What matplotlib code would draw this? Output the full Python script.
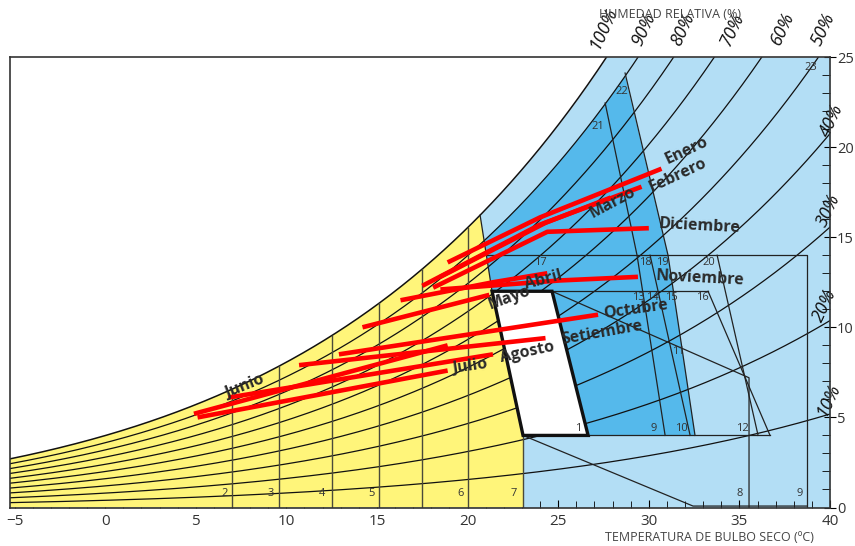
import numpy as np
import matplotlib.pyplot as plt
from matplotlib.patches import Polygon
from matplotlib.ticker import MultipleLocator

plt.rcParams['font.family'] = ['Open Sans', 'DejaVu Sans']

# ---------------- datos ----------------
P_ATM = 95.8          # kPa, presión del sitio
T_MIN, T_MAX = -5.25, 40
W_MAX = 25

rh_levels = [10, 20, 30, 40, 50, 60, 70, 80, 90, 100]
rh_labels = ['100%', '90%', '80%', '70%', '60%', '50%', '40%', '30%', '20%', '10%']
rh_label_t = [27.5, 29.7, 31.9, 34.6, 37.4, 39.6, 40.1, 39.9, 39.7, 39.9]
rh_label_w = [26.6, 26.5, 26.5, 26.5, 26.6, 26.5, 21.5, 16.5, 11.2, 6.0]

# meses: (T, W) de cada tramo
month_names = ['Enero', 'Febrero', 'Marzo', 'Abril', 'Mayo', 'Junio',
               'Julio', 'Agosto', 'Setiembre', 'Octubre', 'Noviembre', 'Diciembre']
month_t = [[18.9, 24.0, 30.7],
           [17.5, 24.0, 29.6],
           [18.5, 24.3, 27.9],
           [16.3, 21.4, 24.4],
           [14.2, 21.2],
           [4.9, 18.9],
           [5.1, 18.9],
           [6.8, 21.4],
           [10.7, 24.3],
           [12.9, 27.2],
           [18.5, 25.1, 29.4],
           [18.1, 24.4, 30.0]]
month_w = [[13.6, 16.1, 18.8],
           [12.3, 15.7, 17.8],
           [12.8, 15.8, 17.2],
           [11.5, 12.5, 13.0],
           [10.0, 11.8],
           [5.2, 9.0],
           [5.0, 7.6],
           [6.1, 8.5],
           [7.9, 9.4],
           [8.5, 10.7],
           [12.1, 12.6, 12.8],
           [12.2, 15.3, 15.5]]
month_lbl_t = [32.1, 31.6, 28.0, 24.2, 22.3, 7.7, 20.1, 23.3, 27.4, 29.3, 32.8, 32.8]
month_lbl_w = [19.8, 18.45, 16.9, 12.6, 11.6, 6.7, 7.8, 8.6, 9.7, 11.0, 12.7, 15.6]
month_lbl_rot = [25, 25, 28, 15, 20, 22, 8, 12, 10, 8, -3, -3]

# zona de confort (1)
comfort_t = [21.35, 24.66, 26.65, 23.06]
comfort_w = [12, 12, 4, 4]

zone_ids = ['1', '2', '3', '4', '5', '6', '7', '8', '9', '9', '10', '11', '12',
            '13', '14', '15', '16', '17', '18', '19', '20', '21', '22', '23']
zone_t = [26.1, 6.57, 9.16, 11.97, 14.68, 19.59, 22.57, 35.03, 38.34, 30.29, 31.78,
          31.61, 35.14, 29.41, 30.18, 31.23, 32.94, 24.0, 29.79, 30.73, 33.32,
          27.2, 28.52, 38.95]
zone_w = [4.41, 0.8, 0.8, 0.8, 0.8, 0.8, 0.8, 0.8, 0.8, 4.41, 4.41, 8.63, 4.41,
          11.63, 11.63, 11.63, 11.63, 13.57, 13.57, 13.57, 13.57, 21.12, 23.11, 24.39]

verticals_t = [7.0, 9.6, 12.5, 15.1, 17.5, 20.0]


def psat(t):
    return 0.61094 * np.exp(17.625 * t / (t + 243.04))


def w_sat(t):
    ps = psat(t)
    return 622 * ps / (P_ATM - ps)


# ---------------- figura ----------------
fig = plt.figure(figsize=(8.55, 5.46), dpi=100)
ax = fig.add_axes([0.0117, 0.0705, 0.9591, 0.8251])
ax.set_xlim(T_MIN, T_MAX)
ax.set_ylim(0, W_MAX)

c_yel = '#fff57a'
c_lb = '#b3def5'
c_db = '#55b9eb'

tt = np.linspace(T_MIN, T_MAX, 600)
ws = w_sat(tt)
ax.fill_between(tt, 0, np.minimum(ws, W_MAX), color=c_lb, lw=0, zorder=1)

# amarillo
t_top = 20.69
ty = np.linspace(T_MIN, t_top, 200)
yel = list(zip(ty, w_sat(ty))) + [(21.35, 12), (23.06, 4), (23.06, 0), (T_MIN, 0)]
ax.add_patch(Polygon(yel, closed=True, fc=c_yel, ec='none', zorder=2))

# azul oscuro: curva 90% hasta el borde
edge_a = (t_top, w_sat(t_top))
edge_b = (21.35, 12.0)
ts = np.linspace(edge_a[0], edge_b[0], 400)
we = edge_a[1] + (ts - edge_a[0]) / (edge_b[0] - edge_a[0]) * (edge_b[1] - edge_a[1])
i0 = np.argmin(np.abs(0.9 * w_sat(ts) - we))
t90 = np.linspace(ts[i0], 28.69, 200)
db = list(zip(t90, 0.9 * w_sat(t90))) + [(31.06, 14), (32.55, 4), (26.65, 4),
                                         (24.66, 12), (21.35, 12)]
ax.add_patch(Polygon(db, closed=True, fc=c_db, ec='none', zorder=2))

# confort
ax.add_patch(Polygon(list(zip(comfort_t, comfort_w)), closed=True, fc='white',
                     ec='#111111', lw=2.4, zorder=5))

# curvas de humedad relativa
for rh in rh_levels:
    ax.plot(tt, rh / 100 * ws, color='#111111', lw=0.9 if rh < 100 else 1.1, zorder=4)

# líneas de zonas
zone_lines = [
    [(t_top, w_sat(t_top)), (21.35, 12)],
    [(21.05, 14), (38.73, 14), (38.73, 0)],
    [(21.35, 12), (33.27, 12)],
    [(23.06, 4), (36.69, 4)],
    [(27.59, 22.45), (29.35, 14), (30.9, 4)],
    [(28.69, 24.11), (31.06, 14), (32.55, 4)],
    [(30.07, 14), (32.28, 4)],
    [(24.66, 12), (35.53, 7.2), (35.53, 0)],
    [(33.77, 14), (36.03, 4)],
    [(33.27, 12), (36.69, 4)],
    [(23.06, 4), (32.44, 0.08), (38.73, 0.08)],
]
for ln in zone_lines:
    xs, ys = zip(*ln)
    ax.plot(xs, ys, color='#222222', lw=0.9, zorder=4)
for vt in verticals_t:
    ax.plot([vt, vt], [0, w_sat(vt)], color='#4a4a3a', lw=1.0, zorder=4)
ax.plot([23.06, 23.06], [0, 4], color='#4a4a3a', lw=1.0, zorder=4)

# meses
for i, name in enumerate(month_names):
    ax.plot(month_t[i], month_w[i], color='#ff0000', lw=3.3,
            solid_capstyle='butt', zorder=6)
    ax.text(month_lbl_t[i], month_lbl_w[i], name, rotation=month_lbl_rot[i],
            ha='center', va='center', fontsize=11.5, fontweight='bold',
            color='#2a2a2a', rotation_mode='anchor', zorder=7)

for z, zt, zw in zip(zone_ids, zone_t, zone_w):
    ax.text(zt, zw, z, ha='center', va='center', fontsize=8, color='#333333', zorder=7)

for lbl, lt, lw_ in zip(rh_labels, rh_label_t, rh_label_w):
    ax.text(lt, lw_, lbl, rotation=65, ha='center', va='center', fontsize=13,
            fontstyle='italic', color='#111111', clip_on=False, zorder=8)

# ejes
ax.xaxis.set_major_locator(MultipleLocator(5))
ax.xaxis.set_minor_locator(MultipleLocator(1))
ax.yaxis.set_major_locator(MultipleLocator(5))
ax.yaxis.set_minor_locator(MultipleLocator(1))
ax.yaxis.tick_right()
ax.tick_params(axis='x', which='major', direction='in', length=6, pad=5,
               labelsize=11, labelcolor='#333333')
ax.tick_params(axis='x', which='minor', direction='in', length=5)
ax.tick_params(axis='y', which='major', direction='inout', length=8, pad=1,
               labelsize=10.5, labelcolor='#333333')
ax.tick_params(axis='y', which='minor', direction='in', length=6)
for s in ax.spines.values():
    s.set_color('#333333')
    s.set_linewidth(1.2)
    s.set_zorder(9)

fig.text(0.784, 0.974, 'HUMEDAD RELATIVA (%)', ha='center', va='center',
         fontsize=9, color='#444444')
fig.text(0.830, 0.015, 'TEMPERATURA DE BULBO SECO (ºC)', ha='center', va='center',
         fontsize=9, color='#444444')

fig.savefig('out.png', dpi=100)
